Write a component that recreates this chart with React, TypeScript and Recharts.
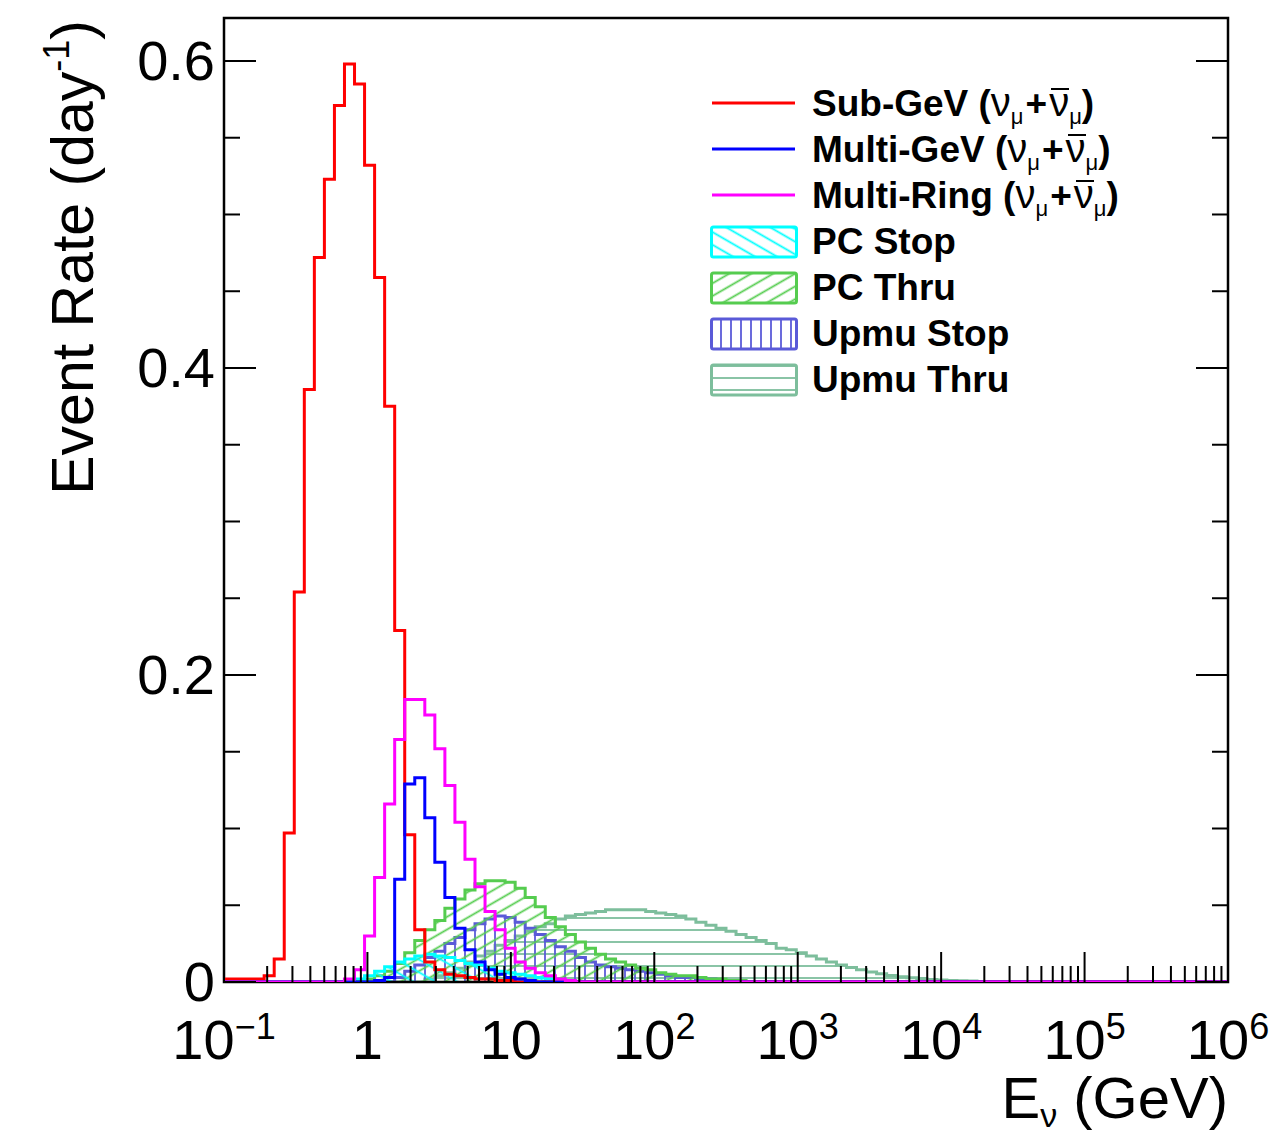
import React from "react"
import { ComposedChart, Line, Area, XAxis, YAxis, ReferenceArea, Label } from "recharts"

// binning: 100 bins of 0.07 in log10(E/GeV), from 10^-1 to 10^6
const X_MIN = -1
const BIN_W = 0.07
const N_BINS = 100

// event rate per bin (day^-1), each list begins at the bin given by its *Start
const subGeVStart = 0
const subGeV = [
  0.002, 0.002, 0.002, 0.002, 0.004, 0.015, 0.097, 0.254, 0.386, 0.472, 0.523, 0.571, 0.598, 0.585, 0.532,
  0.459, 0.375, 0.229, 0.096, 0.034, 0.013, 0.008, 0.005, 0.004, 0.003, 0.002, 0.002, 0.001, 0.001,
]

const multiGeVStart = 15
const multiGeV = [
  0.001, 0.003, 0.067, 0.129, 0.133, 0.107, 0.078, 0.055, 0.035, 0.021, 0.013, 0.008, 0.005, 0.003, 0.002, 0.001,
]

const multiRingStart = 12
const multiRing = [
  0.002, 0.008, 0.03, 0.068, 0.116, 0.158, 0.184, 0.184, 0.174, 0.152, 0.128, 0.104, 0.08, 0.062, 0.046, 0.034,
  0.022, 0.013, 0.009, 0.006, 0.004, 0.002, 0.001,
]

const pcStopStart = 12
const pcStop = [
  0.001, 0.002, 0.004, 0.007, 0.01, 0.013, 0.015, 0.017, 0.018, 0.017, 0.016, 0.014, 0.012, 0.011, 0.009, 0.007,
  0.006, 0.005, 0.004, 0.003, 0.002, 0.001, 0.001,
]

const pcThruStart = 13
const pcThru = [
  0.001, 0.002, 0.004, 0.007, 0.012, 0.019, 0.027, 0.034, 0.04, 0.048, 0.054, 0.06, 0.064, 0.066, 0.066, 0.065,
  0.061, 0.055, 0.049, 0.042, 0.036, 0.031, 0.026, 0.022, 0.018, 0.015, 0.013, 0.011, 0.009, 0.008, 0.006, 0.005,
  0.004, 0.004, 0.003, 0.002, 0.002, 0.001, 0.001,
]

const upmuStopStart = 17
const upmuStop = [
  0.003, 0.007, 0.011, 0.016, 0.02, 0.025, 0.029, 0.034, 0.038, 0.041, 0.043, 0.042, 0.039, 0.035, 0.031, 0.027,
  0.023, 0.02, 0.016, 0.013, 0.011, 0.01, 0.009, 0.008, 0.007, 0.006, 0.005, 0.004, 0.003, 0.003, 0.002, 0.002,
  0.001, 0.001,
]

const upmuThruStart = 20
const upmuThru = [
  0.002, 0.004, 0.006, 0.009, 0.013, 0.017, 0.02, 0.024, 0.027, 0.03, 0.033, 0.036, 0.038, 0.041, 0.043, 0.044,
  0.045, 0.046, 0.047, 0.047, 0.047, 0.047, 0.046, 0.045, 0.044, 0.043, 0.041, 0.039, 0.037, 0.035, 0.033, 0.031,
  0.029, 0.027, 0.025, 0.022, 0.021, 0.019, 0.017, 0.015, 0.013, 0.011, 0.0095, 0.008, 0.0065, 0.0053, 0.0043,
  0.0035, 0.0028, 0.0022, 0.0017, 0.0013, 0.001, 0.0008, 0.0006, 0.0004, 0.0003, 0.0002,
]

// axes
const xMajorTicks = [-1, 0, 1, 2, 3, 4, 5, 6]
const xTickLabels: [string, string][] = [
  ["10", "\u22121"],
  ["1", ""],
  ["10", ""],
  ["10", "2"],
  ["10", "3"],
  ["10", "4"],
  ["10", "5"],
  ["10", "6"],
]
const xMinorMantissas = [2, 3, 4, 5, 6, 7, 8, 9]
const yMajorTicks = [0, 0.2, 0.4, 0.6]
const yTickLabels = ["0", "0.2", "0.4", "0.6"]
const yMinorStep = 0.05
const Y_MAX = 0.628

const FONT = '"Liberation Sans", Arial, Helvetica, sans-serif'
const PLOT_RIGHT = 1228

type Series = {
  key: string
  name: string
  nu: boolean
  color: string
  hatch: boolean
  start: number
  values: number[]
}

const SERIES: Series[] = [
  { key: "subGeV", name: "Sub-GeV", nu: true, color: "#ff0000", hatch: false, start: subGeVStart, values: subGeV },
  { key: "multiGeV", name: "Multi-GeV", nu: true, color: "#0000ff", hatch: false, start: multiGeVStart, values: multiGeV },
  { key: "multiRing", name: "Multi-Ring", nu: true, color: "#ff00ff", hatch: false, start: multiRingStart, values: multiRing },
  { key: "pcStop", name: "PC Stop", nu: false, color: "#00ffff", hatch: true, start: pcStopStart, values: pcStop },
  { key: "pcThru", name: "PC Thru", nu: false, color: "#55cc4f", hatch: true, start: pcThruStart, values: pcThru },
  { key: "upmuStop", name: "Upmu Stop", nu: false, color: "#5a5ad8", hatch: true, start: upmuStopStart, values: upmuStop },
  { key: "upmuThru", name: "Upmu Thru", nu: false, color: "#7dbe9c", hatch: true, start: upmuThruStart, values: upmuThru },
]

const binEdges = Array.from({ length: N_BINS + 1 }, (_, k) => Math.round((X_MIN + k * BIN_W) * 1e4) / 1e4)

const rows = binEdges.map((x, k) => {
  const row: Record<string, number> = { x }
  for (const s of SERIES) {
    const v = s.values[k - s.start]
    row[s.key] = v === undefined ? 0 : v
  }
  return row
})

const xTicks: number[] = []
xMajorTicks.forEach((d, i) => {
  xTicks.push(d)
  if (i < xMajorTicks.length - 1) xMinorMantissas.forEach((m) => xTicks.push(d + Math.log10(m)))
})

const yTicks: number[] = []
for (let v = 0; v <= yMajorTicks[yMajorTicks.length - 1] + 1e-9; v += yMinorStep) yTicks.push(Math.round(v * 1000) / 1000)

const colorOf = (key: string) => SERIES.find((s) => s.key === key)!.color

function hatchPatterns(prefix: string) {
  const w = 1.8
  return [
    <pattern key="a" id={`${prefix}-pcStop`} patternUnits="userSpaceOnUse" width={11} height={11} patternTransform="rotate(30)">
      <line x1={0} y1={5.5} x2={11} y2={5.5} stroke={colorOf("pcStop")} strokeWidth={w} />
    </pattern>,
    <pattern key="b" id={`${prefix}-pcThru`} patternUnits="userSpaceOnUse" width={11} height={11} patternTransform="rotate(-30)">
      <line x1={0} y1={5.5} x2={11} y2={5.5} stroke={colorOf("pcThru")} strokeWidth={w} />
    </pattern>,
    <pattern key="c" id={`${prefix}-upmuStop`} patternUnits="userSpaceOnUse" width={10} height={10}>
      <line x1={5} y1={0} x2={5} y2={10} stroke={colorOf("upmuStop")} strokeWidth={w} />
    </pattern>,
    <pattern key="d" id={`${prefix}-upmuThru`} patternUnits="userSpaceOnUse" width={10} height={12}>
      <line x1={0} y1={6} x2={10} y2={6} stroke={colorOf("upmuThru")} strokeWidth={w} />
    </pattern>,
  ]
}

function XTick(props: any) {
  const { x, y, payload } = props
  const v = payload.value
  const idx = xMajorTicks.findIndex((m) => Math.abs(m - v) < 1e-6)
  const len = idx >= 0 ? 30 : 16
  return (
    <g>
      <line x1={x} x2={x} y1={y} y2={y - len} stroke="#000" strokeWidth={2} />
      {idx >= 0 && (
        <text x={x} y={y + 77} textAnchor="middle" fontSize={56} fontFamily={FONT} fill="#000">
          {xTickLabels[idx][0]}
          {xTickLabels[idx][1] && (
            <tspan dy={-20} fontSize={36}>
              {xTickLabels[idx][1]}
            </tspan>
          )}
        </text>
      )}
    </g>
  )
}

function YTick(props: any) {
  const { x, y, payload } = props
  const v = payload.value
  const idx = yMajorTicks.findIndex((m) => Math.abs(m - v) < 1e-6)
  const len = idx >= 0 ? 32 : 16
  return (
    <g>
      <line x1={x} x2={x + len} y1={y} y2={y} stroke="#000" strokeWidth={2} />
      <line x1={PLOT_RIGHT - len} x2={PLOT_RIGHT} y1={y} y2={y} stroke="#000" strokeWidth={2} />
      {idx >= 0 && (
        <text x={x - 9} y={y + 19} textAnchor="end" fontSize={56} fontFamily={FONT} fill="#000">
          {yTickLabels[idx]}
        </text>
      )}
    </g>
  )
}

function NuMu() {
  const nu = { fontWeight: "normal" as const, fontSize: 40, lineHeight: 1 }
  const mu = { fontWeight: "normal" as const, fontSize: 22, lineHeight: 1, position: "relative" as const, top: 8 }
  return (
    <>
      {" ("}
      <span style={nu}>ν</span>
      <span style={mu}>μ</span>
      <span style={{ margin: "0 2px" }}>+</span>
      <span style={{ ...nu, position: "relative" }}>
        ν
        <span style={{ position: "absolute", left: 2, right: 0, top: 8, borderTop: "2.5px solid #000" }} />
      </span>
      <span style={mu}>μ</span>)
    </>
  )
}

function LegendBox() {
  return (
    <div
      style={{
        position: "absolute",
        left: 706,
        top: 80,
        fontFamily: FONT,
        fontWeight: "bold",
        fontSize: 37,
        color: "#000",
      }}
    >
      <svg width={0} height={0} style={{ position: "absolute" }}>
        <defs>{hatchPatterns("lg")}</defs>
      </svg>
      {SERIES.map((s) => (
        <div key={s.key} style={{ height: 46.2, display: "flex", alignItems: "center", whiteSpace: "nowrap" }}>
          <svg width={100} height={40} style={{ flex: "none" }}>
            {s.hatch ? (
              <rect x={5.5} y={5} width={85} height={30} rx={2} fill={`url(#lg-${s.key})`} stroke={s.color} strokeWidth={3} />
            ) : (
              <line x1={6} x2={89} y1={20} y2={20} stroke={s.color} strokeWidth={3} />
            )}
          </svg>
          <span style={{ marginLeft: 6, lineHeight: "42px" }}>
            {s.name}
            {s.nu && <NuMu />}
          </span>
        </div>
      ))}
    </div>
  )
}

export default function App() {
  const hatched = SERIES.filter((s) => s.hatch).reverse()
  const lines = SERIES.filter((s) => !s.hatch)
  return (
    <div style={{ position: "absolute", left: 0, top: 0, width: 1270, height: 1136, background: "#fff" }}>
      <ComposedChart width={1270} height={1136} data={rows} margin={{ top: 18, right: 42, bottom: 0, left: 0 }}>
        <defs>{hatchPatterns("plot")}</defs>
        <XAxis
          dataKey="x"
          type="number"
          domain={[X_MIN, 6]}
          allowDataOverflow
          ticks={xTicks}
          interval={0}
          minTickGap={0}
          height={154}
          tickSize={0}
          tickMargin={0}
          tickLine={false}
          axisLine={false}
          tick={<XTick />}
        >
          <Label
            content={() => (
              <text x={PLOT_RIGHT} y={1118} textAnchor="end" fontSize={58} fontFamily={FONT} fill="#000">
                E
                <tspan dy={9} fontSize={34}>
                  ν
                </tspan>
                <tspan dy={-9}> (GeV)</tspan>
              </text>
            )}
          />
        </XAxis>
        <YAxis
          type="number"
          domain={[0, Y_MAX]}
          allowDataOverflow
          ticks={yTicks}
          interval={0}
          width={224}
          tickSize={0}
          tickMargin={0}
          tickLine={false}
          axisLine={false}
          tick={<YTick />}
        >
          <Label
            content={() => (
              <text transform="rotate(-90)" x={-20} y={93} textAnchor="end" fontSize={59} fontFamily={FONT} fill="#000">
                Event Rate (day
                <tspan dy={-24} fontSize={36}>
                  -1
                </tspan>
                <tspan dy={24}>)</tspan>
              </text>
            )}
          />
        </YAxis>
        {hatched.map((s) => (
          <Area
            key={s.key}
            type="stepAfter"
            dataKey={s.key}
            stroke={s.color}
            strokeWidth={3}
            fill={`url(#plot-${s.key})`}
            fillOpacity={1}
            dot={false}
            activeDot={false}
            isAnimationActive={false}
          />
        ))}
        {lines.map((s) => (
          <Line
            key={s.key}
            type="stepAfter"
            dataKey={s.key}
            stroke={s.color}
            strokeWidth={3}
            dot={false}
            activeDot={false}
            isAnimationActive={false}
          />
        ))}
        <ReferenceArea x1={X_MIN} x2={6} y1={0} y2={Y_MAX} fill="none" stroke="#000" strokeWidth={2.5} />
      </ComposedChart>
      <LegendBox />
    </div>
  )
}
